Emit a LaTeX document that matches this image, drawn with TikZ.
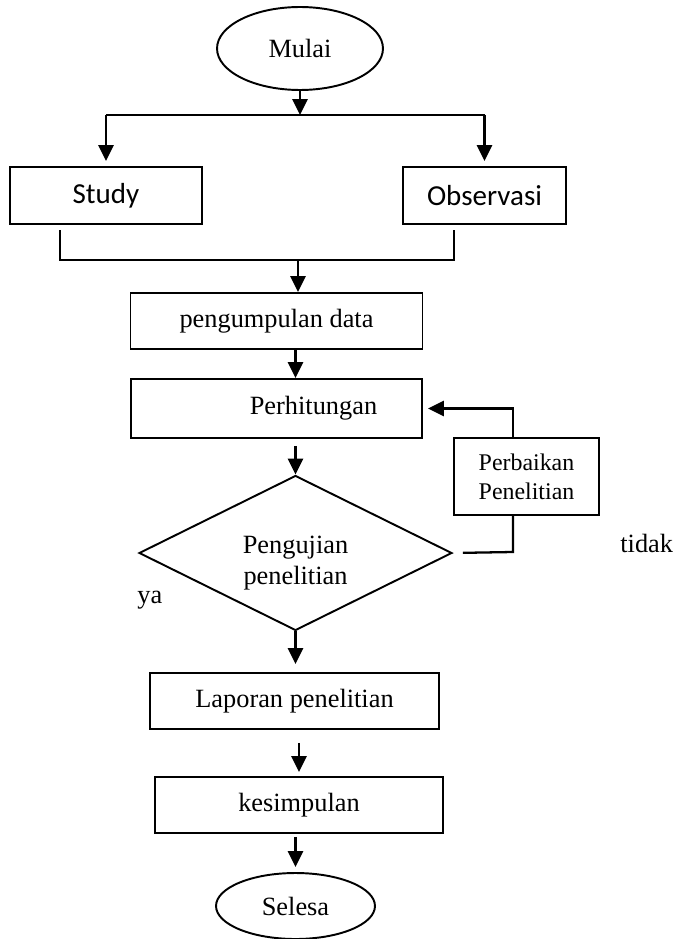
\documentclass[tikz,border=0pt]{standalone}
\usepackage{fontspec}
\setmainfont{Liberation Serif}
\newfontfamily\calibri{Carlito}
\usetikzlibrary{shapes.geometric,arrows.meta}

\begin{document}
\begin{tikzpicture}
		[x=0.02cm, y=-0.02cm,
		every node/.style={inner sep=0pt, font=\fontsize{15}{18}\selectfont},
		box/.style={rectangle, draw, line width=1.1pt},
		term/.style={ellipse, draw, line width=1.1pt},
		arr/.style={-{Triangle[length=9pt, width=8.5pt]}, line width=1.6pt},
		link/.style={line width=1.1pt}]
		\useasboundingbox (0,0) rectangle (673,939);
		\node[term, minimum width=3.32cm, minimum height=1.66cm] (mulai) at (300,48.5) {Mulai};
		\coordinate (split) at (300,115);
		\node[box, minimum width=3.84cm, minimum height=1.14cm, font=\calibri\fontsize{16.5}{20}\selectfont] (study) at (106,195.5) {Study};
		\node[box, minimum width=3.26cm, minimum height=1.14cm, font=\calibri\fontsize{16.5}{20}\selectfont] (obs) at (484.5,195.5) {Observasi};
		\coordinate (joinL) at (60,230);
		\coordinate (joinR) at (454,230);
		\coordinate (merge) at (298,260);
		\node[box, minimum width=5.84cm, minimum height=1.12cm] (kumpul) at (276.5,321) {pengumpulan data};
		\node[box, minimum width=5.82cm, minimum height=1.18cm] (hitung) at (276.5,408.5) {\hspace*{1.48cm}Perhitungan};
		\node[diamond, draw, line width=1.1pt, minimum width=6.26cm, minimum height=3.10cm] (uji) at (295.5,553) {};
		\node[align=center] (ujiteks) at (295.5,563) {Pengujian\\penelitian};
		\node[box, minimum width=2.90cm, minimum height=1.54cm, align=center, font=\fontsize{13.6}{16.4}\selectfont] (baik) at (526.5,476.5) {Perbaikan\\Penelitian};
		\coordinate (tap) at (513,552);
		\node[anchor=base west] (tidak) at (620,552) {tidak};
		\node[anchor=base west] (ya) at (137,603) {ya};
		\node[box, minimum width=5.78cm, minimum height=1.12cm] (lapor) at (294.5,701) {Laporan penelitian};
		\node[box, minimum width=5.76cm, minimum height=1.12cm] (simpul) at (299,805) {kesimpulan};
		\node[term, minimum width=3.18cm, minimum height=1.32cm] (selesa) at (295.5,906) {Selesa};
		
		\draw[arr] (mulai) -- (split);
		\draw[link] (study |- split) -- (obs |- split);
		\draw[arr, shorten >=0.1cm] (study |- split) -- (study.north);
		\draw[arr, shorten >=0.1cm] (obs |- split) -- (obs.north);
		\draw[link] (joinL) -- (joinL |- merge) -- (joinR |- merge) -- (joinR);
		\draw[arr] (merge) -- (merge |- kumpul.north);
		\draw[arr] (uji |- kumpul.south) -- (uji |- hitung.north);
		\draw[arr, shorten <=0.14cm] (uji |- hitung.south) -- (uji.north);
		\draw[link, line width=1.3pt, shorten <=0.2cm] (uji.east) -- (tap) -- (tap |- baik.south);
		\draw[arr, line width=1.3pt, shorten >=0.1cm] (tap |- baik.north) |- (hitung.east);
		\draw[arr, shorten >=0.16cm] (uji.south) -- (uji |- lapor.north);
		\draw[arr, shorten <=0.26cm, shorten >=0.08cm] (simpul |- lapor.south) -- (simpul.north);
		\draw[arr, shorten <=0.06cm, shorten >=0.1cm] (selesa |- simpul.south) -- (selesa.north);
		\end{tikzpicture}
\end{document}
